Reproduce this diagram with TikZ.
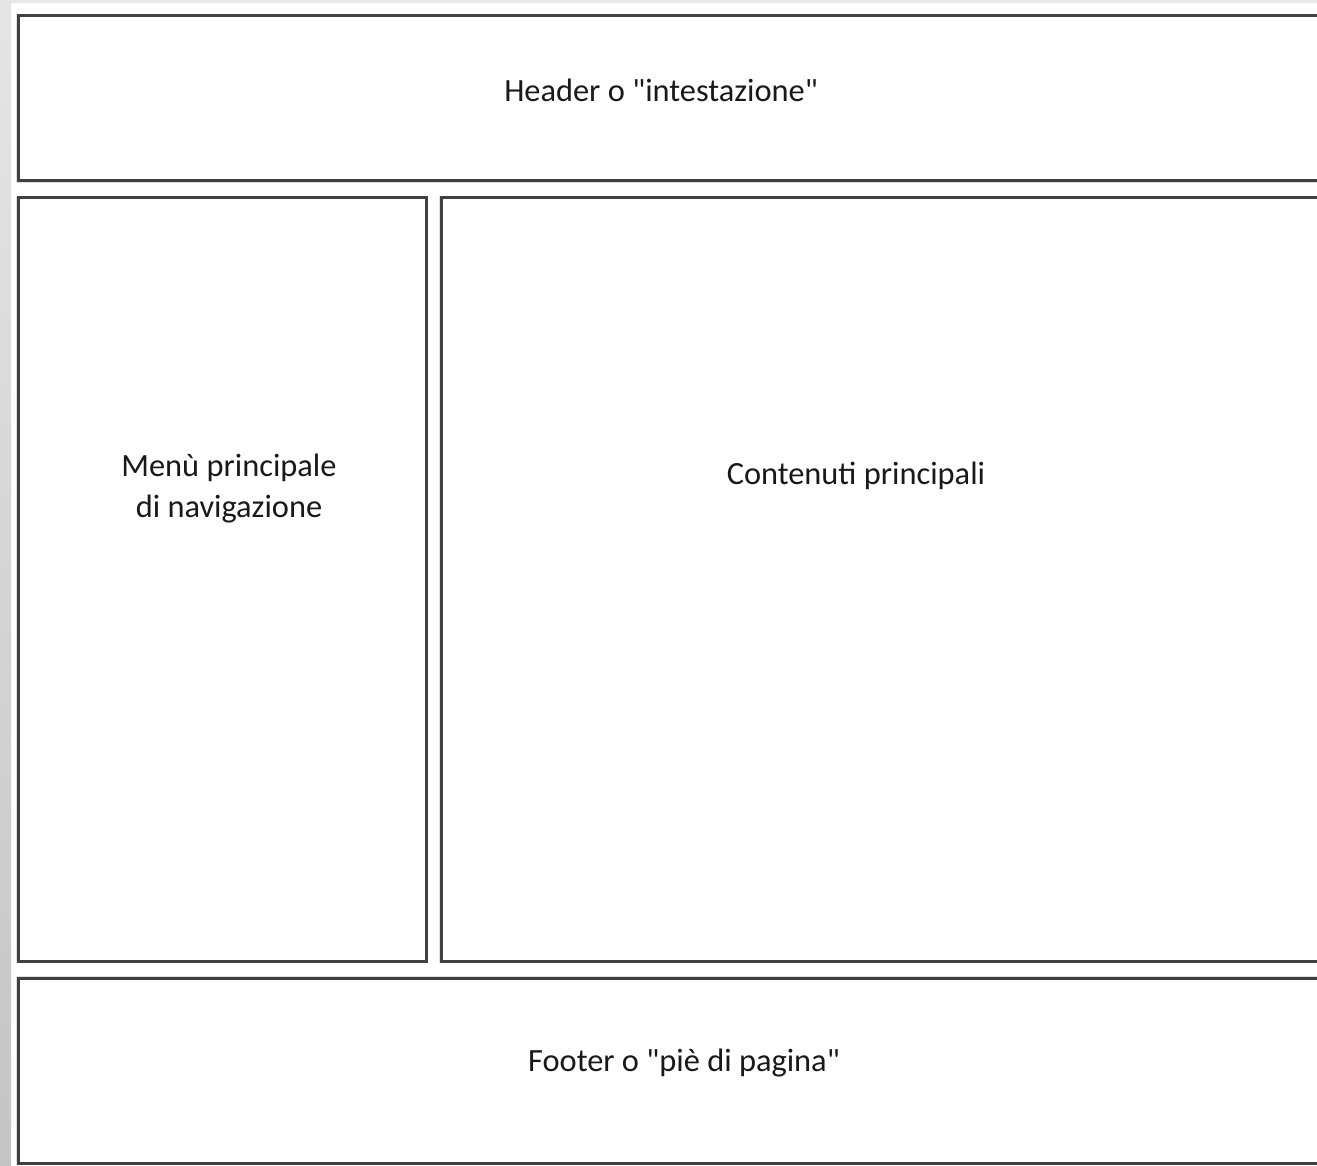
\documentclass[tikz,border=0pt]{standalone}
\usepackage{fontspec}
\setmainfont{Carlito}
\begin{document}
\begin{tikzpicture}[x=0.5pt,y=-0.5pt,
  panel/.style={draw=black!75,line width=1.5pt,fill=white,rectangle,inner sep=0pt,outer sep=0pt,anchor=north west,
    preaction={draw=black!12,line width=2.4pt}},
  label/.style={font=\fontsize{16.2}{20.5}\selectfont,text=black!90,align=center,inner sep=0pt}]
\useasboundingbox (0,0) rectangle (1317,1166);
\clip (0,0) rectangle (1317,1166);
\fill[white] (0,0) rectangle (1317,1166);
\fill[black!9] (0,0) rectangle (1317,3);
\shade[top color=black!10,bottom color=black!23] (0,0) rectangle (11,1166);
\node[panel,minimum width=665pt,minimum height=82.5pt] (header) at (18,16) {};
\node[panel,minimum width=204pt,minimum height=381.5pt] (menu) at (18,198) {};
\node[panel,minimum width=450pt,minimum height=381.5pt] (content) at (441,198) {};
\node[panel,minimum width=665pt,minimum height=92.5pt] (footer) at (18,978) {};
\node[label] (htext) at (661,90) {Header o \textquotedbl intestazione\textquotedbl};
\node[label] (mtext) at (229,489) {Menù principale\\di navigazione};
\node[label] (ctext) at (856,476) {Contenuti principali};
\node[label] (ftext) at (684,1063) {Footer o \textquotedbl piè di pagina\textquotedbl};
\end{tikzpicture}
\end{document}
